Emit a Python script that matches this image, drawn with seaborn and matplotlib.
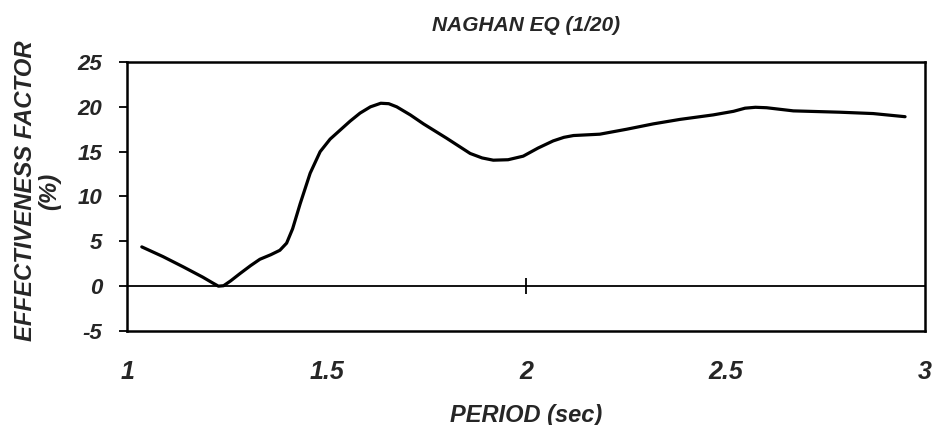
import matplotlib
matplotlib.use("Agg")
import matplotlib.pyplot as plt
import seaborn as sns
import pandas as pd

period = [1.037, 1.09, 1.141, 1.19, 1.215, 1.229, 1.242, 1.26, 1.283, 1.31, 1.333, 1.36, 1.383,
          1.40, 1.415, 1.434, 1.459, 1.484, 1.509, 1.534, 1.559, 1.584, 1.61, 1.636, 1.656,
          1.676, 1.71, 1.743, 1.801, 1.860, 1.89, 1.918, 1.955, 1.993, 2.03, 2.068, 2.095,
          2.119, 2.185, 2.252, 2.319, 2.386, 2.469, 2.52, 2.549, 2.575, 2.603, 2.670, 2.787,
          2.870, 2.950]
effect = [4.38, 3.3, 2.15, 1.0, 0.35, 0.0, 0.05, 0.6, 1.4, 2.3, 3.0, 3.5, 4.0,
          4.8, 6.4, 9.2, 12.6, 15.0, 16.4, 17.4, 18.4, 19.3, 20.0, 20.4, 20.35,
          20.0, 19.1, 18.1, 16.5, 14.8, 14.3, 14.05, 14.1, 14.5, 15.4, 16.2, 16.6,
          16.8, 16.95, 17.5, 18.1, 18.6, 19.1, 19.5, 19.85, 19.95, 19.9, 19.55, 19.4,
          19.25, 18.9]
x_ticks = [1, 1.5, 2, 2.5, 3]
x_ticklabels = ["1", "1.5", "2", "2.5", "3"]
y_ticks = [-5, 0, 5, 10, 15, 20, 25]
y_ticklabels = ["-5", "0", "5", "10", "15", "20", "25"]
title = "NAGHAN EQ (1/20)"
x_label = "PERIOD (sec)"
y_label = "EFFECTIVENESS FACTOR\n(%)"

sns.set_style("white")
plt.rcParams["font.family"] = ["Liberation Sans", "DejaVu Sans"]

df = pd.DataFrame({"period": period, "effect": effect})

fig = plt.figure(figsize=(9.32, 4.25), dpi=100)
ax = fig.add_axes([0.1363, 0.2212, 0.8562, 0.6329])

sns.lineplot(data=df, x="period", y="effect", ax=ax, color="black", linewidth=2.3,
             estimator=None, sort=False)

ax.set_xlim(1, 3)
ax.set_ylim(-5, 25)
ax.axhline(0, color="black", linewidth=1.3)
# cross tick on the zero line at x = 2
ax.plot([x_ticks[2]], [0], marker="|", markersize=11, color="black", markeredgewidth=1.3)

for s in ax.spines.values():
    s.set_visible(True)
    s.set_color("black")
    s.set_linewidth(1.8)

ax.set_xticks(x_ticks)
ax.set_xticklabels(x_ticklabels, fontsize=18, fontweight="bold", fontstyle="italic")
ax.set_yticks(y_ticks)
ax.set_yticklabels(y_ticklabels, fontsize=16, fontweight="bold", fontstyle="italic")
ax.tick_params(axis="x", length=0, pad=21)
ax.tick_params(axis="y", direction="out", length=6, width=1.3, color="black", pad=12, left=True)

ax.set_xlabel(x_label, fontsize=17, fontweight="bold", fontstyle="italic", labelpad=14)
ax.set_ylabel(y_label, fontsize=17.2, fontweight="bold", fontstyle="italic",
              linespacing=1.05)
ax.yaxis.set_label_coords(-0.083, 0.52)
ax.set_title(title, fontsize=15, fontweight="bold", fontstyle="italic", pad=22)

fig.savefig("out.png", dpi=100)
